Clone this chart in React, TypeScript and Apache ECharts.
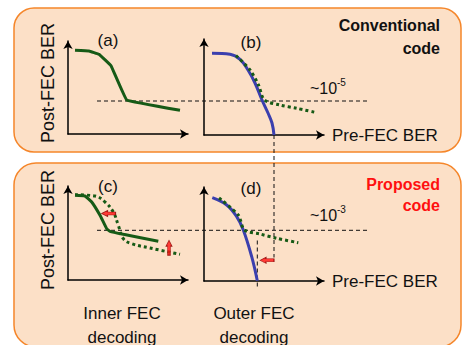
import React, { useEffect, useRef } from "react";
import * as echarts from "echarts";

// ---- data (panel units: 1 unit = 10 px, origin at each panel's axis corner) ----
const curveA: number[][] = [[0.7, 8.37], [2.1, 8.3], [3.1, 7.97], [4.3, 6.83], [5.87, 3.4], [11.2, 2.37]];
const thresholdTop: number[][] = [[2.9, 3.3], [30, 3.3]];
const blueB: number[][] = [[0.8, 8.17], [2.6, 8.07], [3.6, 7.57], [4.4, 6.5], [5.1, 5.2], [5.8, 3.5], [6.4, 2.2], [6.8, 1.2], [7.0, 0]];
const dottedB: number[][] = [[3.2, 7.95], [4.6, 6.5], [5.45, 5.0], [6.05, 3.5], [7.6, 3.0], [9.27, 2.67], [11.27, 2.23]];
const dropB: number[][] = [[7.0, 0], [7.0, -15.4]];
const solidC: number[][] = [[0.7, 8.47], [1.7, 8.4], [2.37, 7.8], [3.2, 6.47], [3.87, 5.13], [4.2, 4.87], [5.53, 4.57], [9.03, 3.87]];
const dottedC: number[][] = [[0.7, 8.53], [2.7, 8.4], [3.7, 7.8], [4.53, 6.8], [5.03, 5.47], [5.53, 4.13], [6.37, 3.63], [8.2, 3.2], [11.2, 2.57]];
const thresholdBottom: number[][] = [[2.9, 4.97], [30, 4.97]];
const leftArrowC: number[][] = [[4.05, 6.65]];
const upArrowC: number[][] = [[10.1, 3.23]];
const blueD: number[][] = [[0.83, 8.33], [2.27, 7.6], [3.27, 6.43], [3.93, 5.1], [4.77, 2.43], [5.33, 0.03]];
const dottedD: number[][] = [[1.5, 8.3], [3.42, 6.6], [4.05, 5.1], [5.6, 4.7], [7.27, 4.27], [9.43, 3.83]];
const dropD: number[][] = [[5.33, 4.05], [5.33, -0.7]];
const leftArrowD: number[][] = [[6.3, 2.07]];

const panelLabels = ["(a)", "(b)", "(c)", "(d)"];
const yAxisTitle = "Post-FEC BER";
const xAxisTitle = "Pre-FEC BER";

// ---- layout ----
const FONT = "'Liberation Sans', Arial, sans-serif";
const GREEN = "#165a16";
const BLUE = "#3b3fae";
const RED = "#ff1010";
const panels = [
  { ox: 68, oy: 134, w: 120, h: 93 },
  { ox: 204, oy: 135, w: 120, h: 96 },
  { ox: 68, oy: 280, w: 120, h: 94 },
  { ox: 204, oy: 281, w: 120, h: 94 },
];
// wide overlay coordinate systems sharing the (a) and (c) origins, for the threshold lines
const overlays = [
  { ox: 68, oy: 134, w: 300, h: 93 },
  { ox: 68, oy: 280, w: 300, h: 94 },
];
const LEFT_ARROW = "path://M0,5L6,0L6,2.5L14,2.5L14,7.5L6,7.5L6,10Z";
const UP_ARROW = "path://M5,0L10,6L7.5,6L7.5,15L2.5,15L2.5,6L0,6Z";

function lineSeries(idx: number, data: number[][], kind: "solid" | "dotted" | "blue" | "dash", smooth: number | boolean = false) {
  const style: any =
    kind === "solid" ? { color: GREEN, width: 3 } :
    kind === "dotted" ? { color: GREEN, width: 3, type: [3, 3], cap: "butt" } :
    kind === "blue" ? { color: BLUE, width: 3 } :
    { color: "#111", width: 1, type: [4, 3] };
  return {
    type: "line", xAxisIndex: idx, yAxisIndex: idx, data, symbol: "none", smooth,
    clip: false, lineStyle: style, silent: true, z: kind === "dash" ? 1 : 3,
  };
}

function arrowSeries(idx: number, data: number[][], up: boolean) {
  return {
    type: "scatter", xAxisIndex: idx, yAxisIndex: idx, data, clip: false,
    symbol: up ? UP_ARROW : LEFT_ARROW, symbolSize: up ? [6, 15] : [14, 6],
    itemStyle: { color: RED, borderColor: "#8a0000", borderWidth: 0.8 }, z: 4,
  };
}

export default function App() {
  const ref = useRef<HTMLDivElement>(null);
  useEffect(() => {
    if (!ref.current) return;
    const chart = echarts.init(ref.current, undefined, { renderer: "svg" });
    const axisLine = { show: true, symbol: ["none", "arrow"], symbolSize: [7, 8], lineStyle: { color: "#000", width: 1.5 } };
    const hidden = { show: false };
    const txt = (text: string, x: number, y: number, extra: any = {}) => ({
      type: "text", x, y, z: 5, rotation: extra.rotation || 0,
      style: { text, fontSize: extra.size || 17, fontFamily: FONT, fontWeight: extra.weight || "normal", fill: extra.color || "#111", align: extra.align || "center", verticalAlign: "middle" },
    });
    const all = [...panels, ...overlays];
    const option: any = {
      animation: false,
      grid: all.map((p) => ({ left: p.ox, top: p.oy - p.h, width: p.w, height: p.h })),
      xAxis: all.map((p, i) => i < 4 ? ({
        type: "value", gridIndex: i, min: 0, max: p.w / 10,
        axisLine, axisTick: hidden, axisLabel: hidden, splitLine: hidden,
        name: i % 2 === 1 ? xAxisTitle : "", nameLocation: "end", nameGap: 8,
        nameTextStyle: { fontSize: 17, fontFamily: FONT, color: "#111", verticalAlign: "middle" },
      }) : ({ type: "value", gridIndex: i, min: 0, max: p.w / 10, show: false })),
      yAxis: all.map((p, i) => i < 4 ? ({
        type: "value", gridIndex: i, min: 0, max: p.h / 10,
        axisLine, axisTick: hidden, axisLabel: hidden, splitLine: hidden,
      }) : ({ type: "value", gridIndex: i, min: 0, max: p.h / 10, show: false })),
      graphic: [
        { type: "rect", z: -10, shape: { x: 14, y: 8, width: 447, height: 144, r: 20 }, style: { fill: "#fce0c7", stroke: "#f5862a", lineWidth: 1.5 } },
        { type: "rect", z: -10, shape: { x: 14, y: 163, width: 447, height: 184, r: 22 }, style: { fill: "#fce0c7", stroke: "#f5862a", lineWidth: 1.5 } },
        txt(yAxisTitle, 48, 83, { size: 18, rotation: Math.PI / 2 }),
        txt(yAxisTitle, 48, 230, { size: 18, rotation: Math.PI / 2 }),
        txt(panelLabels[0], 108, 40),
        txt(panelLabels[1], 251, 42),
        txt(panelLabels[2], 108, 186),
        txt(panelLabels[3], 251, 188),
        txt("Conventional", 440, 25, { weight: "bold", size: 16, align: "right" }),
        txt("code", 440, 48, { weight: "bold", size: 16, align: "right" }),
        txt("Proposed", 440, 184, { weight: "bold", size: 16, align: "right", color: RED }),
        txt("code", 440, 205, { weight: "bold", size: 16, align: "right", color: RED }),
        txt("~10", 310, 88, { size: 16, align: "left" }),
        txt("-5", 337, 82, { size: 10, align: "left" }),
        txt("~10", 310, 215, { size: 16, align: "left" }),
        txt("-3", 337, 209, { size: 10, align: "left" }),
        txt("Inner FEC", 122, 313),
        txt("decoding", 122, 337),
        txt("Outer FEC", 254, 313),
        txt("decoding", 254, 337),
      ],
      series: [
        lineSeries(4, thresholdTop, "dash"),
        lineSeries(0, curveA, "solid", 0.05),
        lineSeries(1, dropB, "dash"),
        lineSeries(1, blueB, "blue", 0.4),
        lineSeries(1, dottedB, "dotted", 0.3),
        lineSeries(5, thresholdBottom, "dash"),
        lineSeries(2, dottedC, "dotted", 0.4),
        lineSeries(2, solidC, "solid", 0.1),
        arrowSeries(2, leftArrowC, false),
        arrowSeries(2, upArrowC, true),
        lineSeries(3, dropD, "dash"),
        lineSeries(3, blueD, "blue", 0.4),
        lineSeries(3, dottedD, "dotted", 0.3),
        arrowSeries(3, leftArrowD, false),
      ],
    };
    chart.setOption(option);
    return () => chart.dispose();
  }, []);
  return <div ref={ref} style={{ position: "absolute", left: 0, top: 0, width: 462, height: 345 }} />;
}
